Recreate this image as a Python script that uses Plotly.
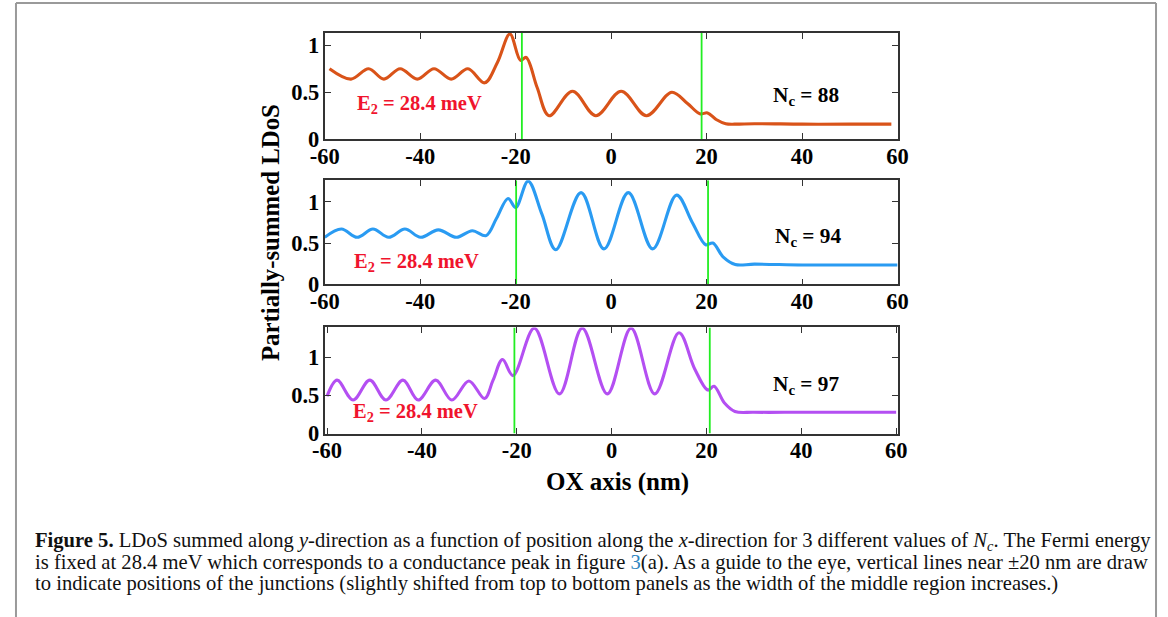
import plotly.graph_objects as go
from plotly.subplots import make_subplots

# ---------------- data ----------------
x_nc88 = [-59, -54.5, -50.8, -47.6, -44.2, -40.6, -37.1, -33.5, -30.0, -26.5, -23.8, -21.2,
          -19.0, -17.8, -15.5, -13.0, -8.1, -3.2, 2.1, 7.4, 12.7, 16.0, 18.6, 20.2, 22.0,
          24.0, 26, 30, 40, 50, 58.7]
y_nc88 = [0.75, 0.64, 0.75, 0.64, 0.75, 0.64, 0.75, 0.64, 0.75, 0.60, 0.82, 1.12,
          0.84, 0.87, 0.55, 0.25, 0.51, 0.25, 0.51, 0.25, 0.50, 0.38, 0.27, 0.28, 0.21,
          0.165, 0.16, 0.165, 0.16, 0.16, 0.16]

x_nc94 = [-60, -56.5, -53.2, -49.9, -46.6, -43.2, -39.9, -36.2, -32.4, -29.1, -26.2, -24.0,
          -21.6, -20.0, -17.4, -14.5, -11.6, -6.3, -1.5, 3.6, 8.7, 13.7, 17.0, 19.8, 21.3,
          23.5, 26, 30, 40, 50, 60]
y_nc94 = [0.57, 0.67, 0.57, 0.67, 0.57, 0.67, 0.57, 0.66, 0.57, 0.65, 0.59, 0.80,
          1.04, 0.93, 1.25, 0.85, 0.42, 1.11, 0.43, 1.11, 0.43, 1.08, 0.75, 0.48, 0.50,
          0.33, 0.24, 0.245, 0.235, 0.235, 0.235]

x_nc97 = [-60, -57.9, -54.5, -51.0, -47.6, -44.0, -40.8, -37.1, -33.7, -30.1, -26.8, -25.0,
          -23.0, -20.8, -16.3, -11.0, -6.2, -0.9, 4.1, 9.1, 14.2, 17.5, 20.3, 21.6, 23.8,
          26, 30, 40, 50, 60]
y_nc97 = [0.49, 0.70, 0.44, 0.70, 0.44, 0.70, 0.44, 0.70, 0.44, 0.69, 0.46, 0.70,
          0.97, 0.76, 1.38, 0.52, 1.38, 0.52, 1.38, 0.52, 1.32, 0.85, 0.57, 0.62, 0.40,
          0.29, 0.28, 0.28, 0.28, 0.28]

nc_labels = ["N<sub>c</sub> = 88", "N<sub>c</sub> = 94", "N<sub>c</sub> = 97"]
energy_label = "E<sub>2</sub> = 28.4 meV"
junctions = [[-18.7, 18.95], [-19.9, 20.3], [-20.5, 20.7]]
y_max = [1.13, 1.26, 1.39]
x_ranges = [[-60, 60], [-60, 60], [-60.5, 60.3]]
x_ticks = [-60, -40, -20, 0, 20, 40, 60]
x_ticktext = ["-60", "-40", "-20", "0", "20", "40", "60"]
y_ticks = [0, 0.5, 1]
y_ticktext = ["0", "0.5", "1"]
line_colors = ["#D95319", "#2A9BF2", "#B44FF2"]

series = [(x_nc88, y_nc88), (x_nc94, y_nc94), (x_nc97, y_nc97)]

# ---------------- figure ----------------
# screenshot mapping observed in earlier runs: picture = 13.2 + 0.978 * page
S, OX = 0.978, 13.2
W, H = 1168, 631


def fx(X):
    return ((X - OX) / S) / W


def fy(Y):
    return (H - Y / S) / H


fig = make_subplots(rows=3, cols=1)

px_left, px_right = 323, 896
panel_px = [(33, 139), (180, 284), (327, 433)]

serif = "Liberation Serif"
tickfont = dict(family=serif, size=22.5, color="black", weight="bold")
for i, (xs, ys) in enumerate(series):
    r = i + 1
    fig.add_trace(go.Scatter(x=xs, y=ys, mode="lines",
                             line=dict(color=line_colors[i], width=3.1, shape="spline", smoothing=1.0),
                             showlegend=False, hoverinfo="skip"), row=r, col=1)
    for xj in junctions[i]:
        fig.add_trace(go.Scatter(x=[xj, xj], y=[0, y_max[i]], mode="lines",
                                 line=dict(color="#22EE22", width=1.8),
                                 showlegend=False, hoverinfo="skip"), row=r, col=1)
    top, bot = panel_px[i]
    sfx = "" if r == 1 else str(r)
    fig.update_layout(**{
        "xaxis" + sfx: dict(domain=[fx(px_left), fx(px_right)], range=x_ranges[i],
                            tickvals=x_ticks, ticktext=x_ticktext, ticks="inside", ticklen=6,
                            tickwidth=1.3, tickcolor="#333", ticklabelstandoff=-4,
                            mirror="ticks", showline=True, linecolor="#333", linewidth=1.7,
                            showgrid=False, zeroline=False, tickfont=tickfont),
        "yaxis" + sfx: dict(domain=[fy(bot), fy(top)], range=[0, y_max[i]],
                            tickvals=y_ticks, ticktext=y_ticktext,
                            ticks="inside", ticklen=6, tickwidth=1.3, tickcolor="#333",
                            ticklabelstandoff=-1,
                            mirror="ticks", showline=True, linecolor="#333", linewidth=1.7,
                            showgrid=False, zeroline=False, tickfont=tickfont),
    })

# in-panel annotations
e_pos = [(-40.2, 0.37), (-40.8, 0.27), (-41.3, 0.28)]
n_pos = [(40.9, 0.46), (41.2, 0.57), (41.0, 0.64)]
for i in range(3):
    sfx = "" if i == 0 else str(i + 1)
    fig.add_annotation(x=e_pos[i][0], y=e_pos[i][1], xref="x" + sfx, yref="y" + sfx,
                       xanchor="center", yanchor="middle",
                       text="<b>" + energy_label + "</b>", showarrow=False,
                       font=dict(family=serif, size=20.5, color="#F0142D"))
    fig.add_annotation(x=n_pos[i][0], y=n_pos[i][1], xref="x" + sfx, yref="y" + sfx,
                       xanchor="center", yanchor="middle",
                       text="<b>" + nc_labels[i] + "</b>", showarrow=False,
                       font=dict(family=serif, size=21.3, color="black"))

# axis titles
fig.add_annotation(x=fx(269), y=fy(232), xref="paper", yref="paper",
                   xanchor="center", yanchor="middle",
                   text="<b>Partially-summed LDoS</b>", textangle=-90, showarrow=False,
                   font=dict(family=serif, size=24.8, color="black"))
fig.add_annotation(x=fx(616), y=fy(481), xref="paper", yref="paper",
                   xanchor="center", yanchor="middle",
                   text="<b>OX axis (nm)</b>", showarrow=False,
                   font=dict(family=serif, size=25, color="black"))

# caption
caption_lines = [
    "<b>Figure 5.</b> LDoS summed along <i>y</i>-direction as a function of position along the "
    "<i>x</i>-direction for 3 different values of <i>N<sub>c</sub></i>. The Fermi energy",
    "is fixed at 28.4 meV which corresponds to a conductance peak in figure "
    "<span style='color:#2E86C1'>3</span>(a). As a guide to the eye, vertical lines near ±20 nm are draw",
    "to indicate positions of the junctions (slightly shifted from top to bottom panels as the width "
    "of the middle region increases.)",
]
cap_y = [541, 562, 583]
for t, yp in zip(caption_lines, cap_y):
    fig.add_annotation(x=fx(31), y=fy(yp), xref="paper", yref="paper", xanchor="left",
                       yanchor="middle", text=t, showarrow=False, align="left",
                       font=dict(family=serif, size=20.6, color="#111"))

# page frame
frame = dict(type="line", xref="paper", yref="paper", line=dict(color="#9A9A9A", width=2))
fig.add_shape(x0=1 / W, x1=(W - 1) / W, y0=fy(3), y1=fy(3), **frame)
fig.add_shape(x0=1 / W, x1=1 / W, y0=0, y1=fy(3), **frame)
fig.add_shape(x0=(W - 1) / W, x1=(W - 1) / W, y0=0, y1=fy(3), **frame)

fig.update_layout(width=W, height=H, margin=dict(l=0, r=0, t=0, b=0),
                  paper_bgcolor="white", plot_bgcolor="white")

fig.write_html("out.html", config={"displayModeBar": False},
               post_script="document.body.style.margin='0px';document.body.style.overflow='hidden';")
